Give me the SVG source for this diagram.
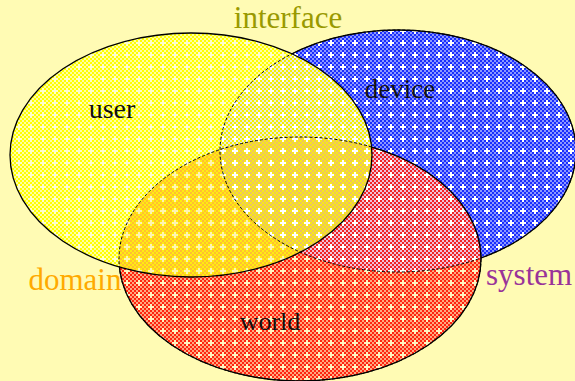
<svg xmlns="http://www.w3.org/2000/svg" width="575" height="381" viewBox="0 0 575 381">
  <defs>
    <!-- 2px checker cells on a 12px tile, centre cell left open for the plus -->
    <path id="checker" shape-rendering="crispEdges" d="M0 0h2v2h-2zM4 0h2v2h-2zM8 0h2v2h-2zM2 2h2v2h-2zM6 2h2v2h-2zM10 2h2v2h-2zM0 4h2v2h-2zM4 4h2v2h-2zM8 4h2v2h-2zM2 6h2v2h-2zM10 6h2v2h-2zM0 8h2v2h-2zM4 8h2v2h-2zM8 8h2v2h-2zM2 10h2v2h-2zM6 10h2v2h-2zM10 10h2v2h-2z"/>
    <path id="plus" shape-rendering="crispEdges" d="M4 6h6v2h-6zM6 4h2v6h-2z"/>
    <rect id="tile" width="12" height="12" shape-rendering="crispEdges"/>

    <pattern id="pat-blue" patternUnits="userSpaceOnUse" width="12" height="12">
      <use href="#tile" fill="#8c98ff"/>
      <use href="#checker" fill="#1a2eff"/>
      <use href="#plus" fill="#ffffff"/>
    </pattern>
    <pattern id="pat-red" patternUnits="userSpaceOnUse" width="12" height="12">
      <use href="#tile" fill="#ffa880"/>
      <use href="#checker" fill="#ff2410"/>
      <use href="#plus" fill="#fff3c0"/>
    </pattern>
    <pattern id="pat-yellow" patternUnits="userSpaceOnUse" width="12" height="12">
      <use href="#tile" fill="#ffffa0"/>
      <use href="#checker" fill="#ffff00"/>
      <use href="#plus" fill="#ffffc8"/>
    </pattern>
    <pattern id="pat-yellow-blue" patternUnits="userSpaceOnUse" width="12" height="12">
      <use href="#tile" fill="#ececdc"/>
      <use href="#checker" fill="#f4f000"/>
      <use href="#plus" fill="#ffffff"/>
    </pattern>
    <pattern id="pat-yellow-red" patternUnits="userSpaceOnUse" width="12" height="12">
      <use href="#tile" fill="#ffbf30"/>
      <use href="#checker" fill="#ffec10"/>
      <use href="#plus" fill="#fff4b0"/>
    </pattern>
    <pattern id="pat-red-blue" patternUnits="userSpaceOnUse" width="12" height="12">
      <use href="#tile" fill="#f0c0d8"/>
      <use href="#checker" fill="#f02424"/>
      <use href="#plus" fill="#ffffff"/>
    </pattern>
    <pattern id="pat-all" patternUnits="userSpaceOnUse" width="12" height="12">
      <use href="#tile" fill="#ecc460"/>
      <use href="#checker" fill="#f8e818"/>
      <use href="#plus" fill="#ffffff"/>
    </pattern>

    <ellipse id="shape-device" cx="398" cy="151" rx="178" ry="121"/>
    <ellipse id="shape-world" cx="300" cy="259" rx="181" ry="122"/>
    <ellipse id="shape-user" cx="191" cy="155" rx="181" ry="122"/>

    <clipPath id="in-device"><use href="#shape-device"/></clipPath>
    <clipPath id="in-world"><use href="#shape-world"/></clipPath>

    <mask id="out-user" maskUnits="userSpaceOnUse" x="0" y="0" width="575" height="381">
      <rect width="575" height="381" fill="#fff"/>
      <use href="#shape-user" fill="#000"/>
    </mask>
    <mask id="out-user-world" maskUnits="userSpaceOnUse" x="0" y="0" width="575" height="381">
      <rect width="575" height="381" fill="#fff"/>
      <use href="#shape-user" fill="#000"/>
      <use href="#shape-world" fill="#000"/>
    </mask>
  </defs>
  <style>
    .edge { fill: none; stroke: #000000; stroke-width: 1.3; }
    .hidden { stroke-dasharray: 3 2; stroke-width: 1; }
    .label { font-family: "Liberation Serif", "Times New Roman", serif; }
    .inner { fill: #111111; }
    .outer { font-size: 31px; }
  </style>

  <rect width="575" height="381" fill="#fffbb4"/>

  <!-- set regions -->
  <g id="device">
    <use href="#shape-device" fill="url(#pat-blue)"/>
  </g>
  <g id="world">
    <use href="#shape-world" fill="url(#pat-red)"/>
    <use href="#shape-world" fill="url(#pat-red-blue)" clip-path="url(#in-device)"/>
  </g>
  <g id="user">
    <use href="#shape-user" fill="url(#pat-yellow)"/>
    <use href="#shape-user" fill="url(#pat-yellow-blue)" clip-path="url(#in-device)"/>
    <use href="#shape-user" fill="url(#pat-yellow-red)" clip-path="url(#in-world)"/>
    <g clip-path="url(#in-device)">
      <use href="#shape-user" fill="url(#pat-all)" clip-path="url(#in-world)"/>
    </g>
  </g>

  <!-- outlines: solid where visible, dashed where covered -->
  <g id="outlines">
    <use href="#shape-device" class="edge hidden"/>
    <use href="#shape-device" class="edge" mask="url(#out-user-world)"/>
    <use href="#shape-world" class="edge hidden"/>
    <use href="#shape-world" class="edge" mask="url(#out-user)"/>
    <use href="#shape-user" class="edge"/>
  </g>

  <g id="labels" class="label">
    <text class="inner" x="112" y="118" font-size="28" text-anchor="middle">user</text>
    <text class="inner" x="400" y="98" font-size="27" text-anchor="middle">device</text>
    <text class="inner" x="270" y="330" font-size="26" text-anchor="middle">world</text>
    <text class="outer" x="288" y="28" fill="#999900" text-anchor="middle">interface</text>
    <text class="outer" x="75" y="290" fill="#ffaa00" text-anchor="middle">domain</text>
    <text class="outer" x="486" y="285" fill="#993399">system</text>
  </g>
</svg>
